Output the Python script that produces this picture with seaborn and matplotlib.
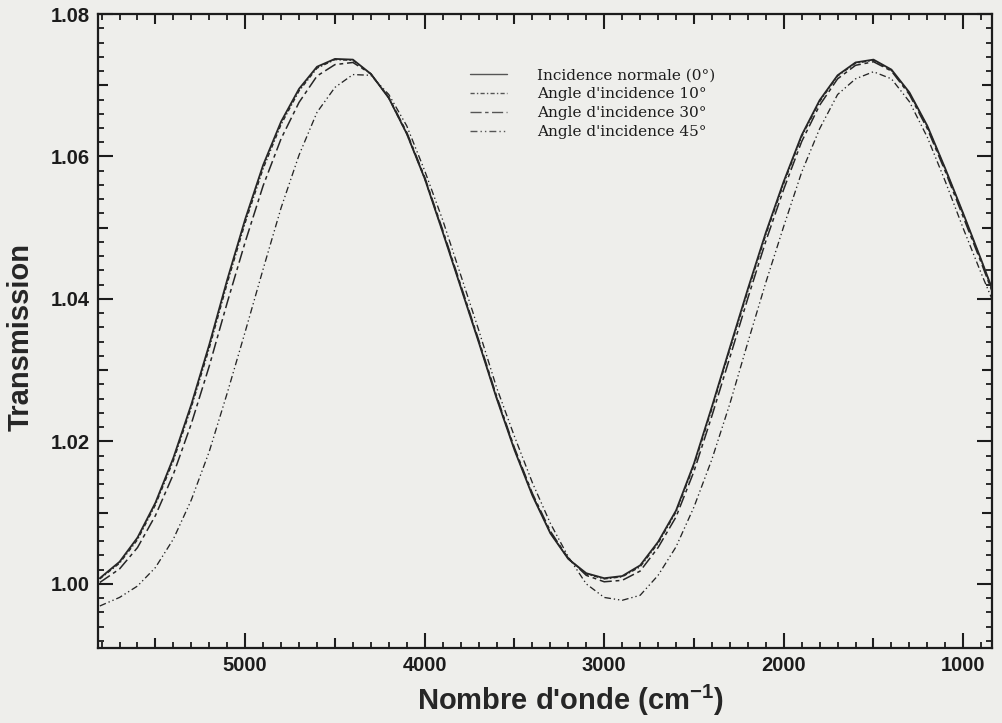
import matplotlib
matplotlib.use("Agg")
import matplotlib.pyplot as plt
import pandas as pd
import seaborn as sns
from matplotlib.ticker import FixedLocator, MultipleLocator, FuncFormatter

# Transmission spectra of the slab for four angles of incidence
wavenumber = [5810, 5700, 5600, 5500, 5400, 5300, 5200, 5100, 5000, 4900,
              4800, 4700, 4600, 4500, 4400, 4300, 4200, 4100, 4000, 3900,
              3800, 3700, 3600, 3500, 3400, 3300, 3200, 3100, 3000, 2900,
              2800, 2700, 2600, 2500, 2400, 2300, 2200, 2100, 2000, 1900,
              1800, 1700, 1600, 1500, 1400, 1300, 1200, 1100, 1000, 900, 840]

t_0deg = [1.0008, 1.0031, 1.0065, 1.0114, 1.0177, 1.0252, 1.0336, 1.0427, 1.0512, 1.0588,
          1.0649, 1.0695, 1.0726, 1.0737, 1.0736, 1.0716, 1.0682, 1.0632, 1.0569, 1.0494,
          1.0417, 1.0340, 1.0261, 1.0188, 1.0124, 1.0071, 1.0035, 1.0015, 1.0008, 1.0011,
          1.0026, 1.0059, 1.0103, 1.0169, 1.0249, 1.0332, 1.0414, 1.0493, 1.0565, 1.0630,
          1.0679, 1.0714, 1.0732, 1.0736, 1.0722, 1.0690, 1.0643, 1.0583, 1.0520, 1.0455, 1.0415]

t_10deg = [1.0007, 1.0029, 1.0062, 1.0111, 1.0173, 1.0248, 1.0331, 1.0422, 1.0507, 1.0583,
           1.0645, 1.0692, 1.0724, 1.0736, 1.0735, 1.0716, 1.0682, 1.0632, 1.0569, 1.0495,
           1.0418, 1.0341, 1.0262, 1.0189, 1.0125, 1.0072, 1.0035, 1.0014, 1.0007, 1.0010,
           1.0024, 1.0057, 1.0101, 1.0166, 1.0246, 1.0329, 1.0411, 1.0490, 1.0562, 1.0628,
           1.0677, 1.0713, 1.0731, 1.0735, 1.0721, 1.0689, 1.0642, 1.0582, 1.0519, 1.0454, 1.0414]

t_30deg = [1.0002, 1.0021, 1.0051, 1.0096, 1.0154, 1.0225, 1.0306, 1.0395, 1.0480, 1.0559,
           1.0625, 1.0676, 1.0713, 1.0729, 1.0732, 1.0716, 1.0683, 1.0634, 1.0571, 1.0497,
           1.0420, 1.0343, 1.0264, 1.0191, 1.0127, 1.0074, 1.0036, 1.0012, 1.0003, 1.0005,
           1.0018, 1.0051, 1.0094, 1.0158, 1.0236, 1.0318, 1.0401, 1.0481, 1.0554, 1.0621,
           1.0672, 1.0709, 1.0728, 1.0733, 1.0720, 1.0687, 1.0639, 1.0579, 1.0515, 1.0451, 1.0411]

t_45deg = [0.9969, 0.9981, 0.9997, 1.0023, 1.0063, 1.0118, 1.0186, 1.0268, 1.0354, 1.0442,
           1.0528, 1.0602, 1.0662, 1.0697, 1.0715, 1.0714, 1.0687, 1.0643, 1.0580, 1.0511,
           1.0434, 1.0357, 1.0276, 1.0207, 1.0142, 1.0085, 1.0038, 1.0000, 0.9981, 0.9977,
           0.9984, 1.0012, 1.0052, 1.0108, 1.0175, 1.0253, 1.0339, 1.0423, 1.0502, 1.0578,
           1.0639, 1.0687, 1.0709, 1.0719, 1.0709, 1.0677, 1.0627, 1.0565, 1.0499, 1.0436, 1.0400]

angle_labels = ["Incidence normale (0°)", "Angle d'incidence 10°",
                "Angle d'incidence 30°", "Angle d'incidence 45°"]

series = [t_0deg, t_10deg, t_30deg, t_45deg]
df = pd.concat(
    [pd.DataFrame({"wavenumber": wavenumber, "transmission": vals, "angle": lab})
     for lab, vals in zip(angle_labels, series)],
    ignore_index=True,
)

paper = "#eeeeeb"
ink = "#1c1c1c"

sns.set_theme(style="ticks")
plt.rcParams["font.family"] = ["Liberation Sans", "DejaVu Sans"]
plt.rcParams["mathtext.fontset"] = "custom"
plt.rcParams["mathtext.rm"] = "Liberation Sans"
plt.rcParams["mathtext.bf"] = "Liberation Sans:bold"
plt.rcParams["text.color"] = ink
plt.rcParams["axes.edgecolor"] = ink

fig = plt.figure(figsize=(10.03, 7.23), dpi=100, facecolor=paper)
ax = fig.add_axes([0.0977, 0.1037, 0.8913, 0.8769])
ax.set_facecolor(paper)

line_styles = {
    angle_labels[0]: "",
    angle_labels[1]: (3.0, 1.6, 1.0, 1.6),
    angle_labels[2]: (8.0, 2.5, 2.5, 2.5),
    angle_labels[3]: (5.0, 2.2, 1.0, 2.2, 1.0, 2.2),
}
palette = {lab: "#262626" for lab in angle_labels}

sns.lineplot(data=df, x="wavenumber", y="transmission", hue="angle", style="angle",
             hue_order=angle_labels, style_order=angle_labels,
             palette=palette, dashes=line_styles, sort=False, estimator=None,
             linewidth=1.1, legend=False, ax=ax)

curves = ax.get_lines()[:4]
widths = [1.3, 1.0, 1.1, 0.95]
for ln, w, z in zip(curves, widths, [5, 4, 3, 2]):
    ln.set_linewidth(w)
    ln.set_zorder(z)

ax.set_xlim(5820, 840)
ax.set_ylim(0.991, 1.08)

# x ticks: long every 1000, medium every 500, short every 100
ax.xaxis.set_major_locator(FixedLocator([1000, 1500, 2000, 2500, 3000, 3500, 4000, 4500, 5000, 5500]))
ax.xaxis.set_minor_locator(MultipleLocator(100))
ax.xaxis.set_major_formatter(FuncFormatter(lambda v, p: f"{v:.0f}" if round(v) % 1000 == 0 else ""))

# y ticks: long every 0.02, medium every 0.01, short every 0.002
yt = [0.99 + 0.01 * k for k in range(10)]
yt = [v for v in yt if 0.991 <= v <= 1.0801]
ax.yaxis.set_major_locator(FixedLocator(yt))
ax.yaxis.set_minor_locator(MultipleLocator(0.002))
ax.yaxis.set_major_formatter(FuncFormatter(lambda v, p: f"{v:.2f}" if round(v * 100) % 2 == 0 else ""))

ax.tick_params(which="major", direction="in", length=11, width=1.5, top=True, right=True,
               colors=ink, labelsize=14.5, pad=6)
ax.tick_params(which="minor", direction="in", length=4.5, width=1.3, top=True, right=True,
               colors=ink)
for lbl in ax.get_xticklabels() + ax.get_yticklabels():
    lbl.set_fontweight("bold")

for tick, v in zip(ax.xaxis.get_major_ticks(len(ax.get_xticks())), ax.get_xticks()):
    if round(v) % 1000 != 0:
        tick.tick1line.set_markersize(7.5)
        tick.tick2line.set_markersize(7.5)
for tick, v in zip(ax.yaxis.get_major_ticks(len(ax.get_yticks())), ax.get_yticks()):
    if round(v * 100) % 2 != 0:
        tick.tick1line.set_markersize(7.5)
        tick.tick2line.set_markersize(7.5)

for sp in ax.spines.values():
    sp.set_linewidth(1.6)
    sp.set_color(ink)
    sp.set_visible(True)

ax.set_xlabel(r"Nombre d'onde (cm$^{\mathbf{-1}}$)", fontsize=21, fontweight="bold")
ax.set_ylabel("Transmission", fontsize=21, fontweight="bold")
ax.xaxis.set_label_coords(0.528, -0.083)
ax.xaxis.label.set_verticalalignment("center")
ax.yaxis.set_label_coords(-0.086, 0.49)
ax.yaxis.label.set_verticalalignment("center")

leg = ax.legend(handles=curves, labels=angle_labels, loc="upper left",
                bbox_to_anchor=(0.4686, 0.9055), bbox_transform=fig.transFigure,
                frameon=False, borderpad=0, borderaxespad=0,
                handlelength=2.4, handletextpad=2.0, labelspacing=0.32,
                prop={"family": "DejaVu Serif", "size": 11})
for t in leg.get_texts():
    t.set_color(ink)
for h in leg.get_lines():
    h.set_color("#555555")
    h.set_linewidth(1.0)

fig.savefig("out.png", dpi=100, facecolor=paper)
